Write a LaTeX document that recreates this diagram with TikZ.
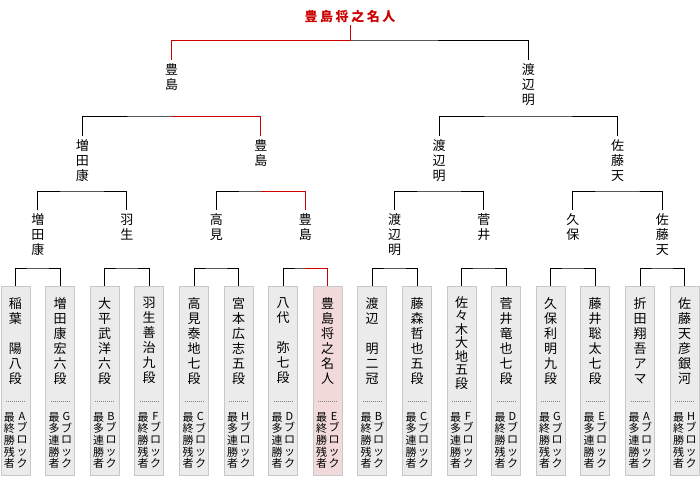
\documentclass[tikz,border=0pt]{standalone}
\usepackage{fontspec}
\setmainfont{Noto Sans CJK JP}
\usepackage{tikz}
\usetikzlibrary{positioning}

\definecolor{winred}{HTML}{CC0000}
\definecolor{boxgray}{HTML}{EBEBEB}
\definecolor{boxpink}{HTML}{F2DADA}
\definecolor{boxedge}{HTML}{C8C8C8}

\tikzset{
  box/.style={draw=boxedge, fill=boxgray, minimum width=29pt, minimum height=189pt,
    inner sep=0pt, outer sep=0pt, anchor=north},
  winbox/.style={box, fill=boxpink},
  player/.style={anchor=north, inner sep=0pt, align=center, font=\fontsize{13}{15}\selectfont},
  foot/.style={anchor=north, inner sep=0pt, align=center, font=\fontsize{11}{11.7}\selectfont},
  lab/.style={anchor=north, inner sep=0pt, outer sep=4pt, align=center, font=\fontsize{13}{15}\selectfont},
  bracket/.style={line width=1pt},
  win/.style={line width=1pt, draw=winred},
  dotsep/.style={draw=gray, line width=0.8pt, dash pattern=on 0.8pt off 1.2pt}
}

\begin{document}
\begin{tikzpicture}[x=1pt,y=-1pt]
\useasboundingbox (0,0) rectangle (700,480);

% first round boxes
\node[box] (b1)  at (15.5,286) {};
\node[box] (b2)  at (60,286) {};
\node[box] (b3)  at (104.5,286) {};
\node[box] (b4)  at (149,286) {};
\node[box] (b5)  at (194,286) {};
\node[box] (b6)  at (238.5,286) {};
\node[box] (b7)  at (283,286) {};
\node[winbox] (b8)  at (327.5,286) {};
\node[box] (b9)  at (372,286) {};
\node[box] (b10) at (417,286) {};
\node[box] (b11) at (461.5,286) {};
\node[box] (b12) at (506,286) {};
\node[box] (b13) at (550.5,286) {};
\node[box] (b14) at (595,286) {};
\node[box] (b15) at (640,286) {};
\node[box] (b16) at (684.5,286) {};

\node[player] (n1)  at (15.5,297) {稲\\葉\\\mbox{}\\陽\\八\\段};
\node[player] (n2)  at (60,297) {増\\田\\康\\宏\\六\\段};
\node[player] (n3)  at (104.5,297) {大\\平\\武\\洋\\六\\段};
\node[player] (n4)  at (149,297) {羽\\生\\善\\治\\九\\段};
\node[player] (n5)  at (194,297) {高\\見\\泰\\地\\七\\段};
\node[player] (n6)  at (238.5,297) {宮\\本\\広\\志\\五\\段};
\node[player] (n7)  at (283,297) {八\\代\\\mbox{}\\弥\\七\\段};
\node[player] (n8)  at (327.5,297) {豊\\島\\将\\之\\名\\人};
\node[player] (n9)  at (372,297) {渡\\辺\\\mbox{}\\明\\二\\冠};
\node[player] (n10) at (417,297) {藤\\森\\哲\\也\\五\\段};
\node[player, font=\fontsize{13}{13.5}\selectfont] (n11) at (461.5,296) {佐\\々\\木\\大\\地\\五\\段};
\node[player] (n12) at (506,297) {菅\\井\\竜\\也\\七\\段};
\node[player] (n13) at (550.5,297) {久\\保\\利\\明\\九\\段};
\node[player] (n14) at (595,297) {藤\\井\\聡\\太\\七\\段};
\node[player] (n15) at (640,297) {折\\田\\翔\\吾\\ア\\マ};
\node[player] (n16) at (684.5,297) {佐\\藤\\天\\彦\\銀\\河};

\draw[dotsep] (6,401) -- (25,401);
\draw[dotsep] (50.5,401) -- (69.5,401);
\draw[dotsep] (95,401) -- (114,401);
\draw[dotsep] (139.5,401) -- (158.5,401);
\draw[dotsep] (184.5,401) -- (203.5,401);
\draw[dotsep] (229,401) -- (248,401);
\draw[dotsep] (273.5,401) -- (292.5,401);
\draw[dotsep] (318,401) -- (337,401);
\draw[dotsep] (362.5,401) -- (381.5,401);
\draw[dotsep] (407.5,401) -- (426.5,401);
\draw[dotsep] (452,401) -- (471,401);
\draw[dotsep] (496.5,401) -- (515.5,401);
\draw[dotsep] (541,401) -- (560,401);
\draw[dotsep] (585.5,401) -- (604.5,401);
\draw[dotsep] (630.5,401) -- (649.5,401);
\draw[dotsep] (675,401) -- (694,401);

\node[foot] (a1)  at (9.5,412) {最\\終\\勝\\残\\者};
\node[foot] (k1)  at (22,412) {A\\ブ\\ロ\\ッ\\ク};
\node[foot] (a2)  at (54,412) {最\\多\\連\\勝\\者};
\node[foot] (k2)  at (66.5,412) {G\\ブ\\ロ\\ッ\\ク};
\node[foot] (a3)  at (98.5,412) {最\\多\\連\\勝\\者};
\node[foot] (k3)  at (111,412) {B\\ブ\\ロ\\ッ\\ク};
\node[foot] (a4)  at (143,412) {最\\終\\勝\\残\\者};
\node[foot] (k4)  at (155.5,412) {F\\ブ\\ロ\\ッ\\ク};
\node[foot] (a5)  at (188,412) {最\\終\\勝\\残\\者};
\node[foot] (k5)  at (200.5,412) {C\\ブ\\ロ\\ッ\\ク};
\node[foot] (a6)  at (232.5,412) {最\\多\\連\\勝\\者};
\node[foot] (k6)  at (245,412) {H\\ブ\\ロ\\ッ\\ク};
\node[foot] (a7)  at (277,412) {最\\多\\連\\勝\\者};
\node[foot] (k7)  at (289.5,412) {D\\ブ\\ロ\\ッ\\ク};
\node[foot] (a8)  at (321.5,412) {最\\終\\勝\\残\\者};
\node[foot] (k8)  at (334,412) {E\\ブ\\ロ\\ッ\\ク};
\node[foot] (a9)  at (366,412) {最\\終\\勝\\残\\者};
\node[foot] (k9)  at (378.5,412) {B\\ブ\\ロ\\ッ\\ク};
\node[foot] (a10) at (411,412) {最\\多\\連\\勝\\者};
\node[foot] (k10) at (423.5,412) {C\\ブ\\ロ\\ッ\\ク};
\node[foot] (a11) at (455.5,412) {最\\多\\連\\勝\\者};
\node[foot] (k11) at (468,412) {F\\ブ\\ロ\\ッ\\ク};
\node[foot] (a12) at (500,412) {最\\終\\勝\\残\\者};
\node[foot] (k12) at (512.5,412) {D\\ブ\\ロ\\ッ\\ク};
\node[foot] (a13) at (544.5,412) {最\\終\\勝\\残\\者};
\node[foot] (k13) at (557,412) {G\\ブ\\ロ\\ッ\\ク};
\node[foot] (a14) at (589,412) {最\\多\\連\\勝\\者};
\node[foot] (k14) at (601.5,412) {E\\ブ\\ロ\\ッ\\ク};
\node[foot] (a15) at (634,412) {最\\多\\連\\勝\\者};
\node[foot] (k15) at (646.5,412) {A\\ブ\\ロ\\ッ\\ク};
\node[foot] (a16) at (678.5,412) {最\\終\\勝\\残\\者};
\node[foot] (k16) at (691,412) {H\\ブ\\ロ\\ッ\\ク};

% winners
\node[lab] (p1) at (37.75,210) {増\\田\\康};
\node[lab] (p2) at (126.75,210) {羽\\生};
\node[lab] (p3) at (216.25,210) {高\\見};
\node[lab] (p4) at (305.25,210) {豊\\島};
\node[lab] (p5) at (394.5,210) {渡\\辺\\明};
\node[lab] (p6) at (483.75,210) {菅\\井};
\node[lab] (p7) at (572.75,210) {久\\保};
\node[lab] (p8) at (662.25,210) {佐\\藤\\天};

\node[lab] (q1) at (82.25,136) {増\\田\\康};
\node[lab] (q2) at (260.75,136) {豊\\島};
\node[lab] (q3) at (439.1,136) {渡\\辺\\明};
\node[lab] (q4) at (617.5,136) {佐\\藤\\天};

\node[lab] (s1) at (171.5,60) {豊\\島};
\node[lab] (s2) at (528.3,60) {渡\\辺\\明};

\node[inner sep=0pt, outer sep=2pt, text=winred,
  font=\fontsize{13}{15}\selectfont\bfseries\addfontfeature{LetterSpace=20}]
  (champ) at (350,17) {豊島将之名人};

% junctions
\coordinate (j1) at (37.75,268);
\coordinate (j2) at (126.75,268);
\coordinate (j3) at (216.25,268);
\coordinate (j4) at (305.25,268);
\coordinate (j5) at (394.5,268);
\coordinate (j6) at (483.75,268);
\coordinate (j7) at (572.75,268);
\coordinate (j8) at (662.25,268);
\coordinate (j9)  at (82.25,191);
\coordinate (j10) at (260.75,191);
\coordinate (j11) at (439.1,191);
\coordinate (j12) at (617.5,191);
\coordinate (j13) at (171.5,116);
\coordinate (j14) at (528.3,116);
\coordinate (j15) at (350,40);

\draw[bracket] (b1.north) |- (j1) -| (b2.north);
\draw[bracket] (b3.north) |- (j2) -| (b4.north);
\draw[bracket] (b5.north) |- (j3) -| (b6.north);
\draw[bracket] (b7.north) |- (j4) -| (b8.north);
\draw[bracket] (b9.north) |- (j5) -| (b10.north);
\draw[bracket] (b11.north) |- (j6) -| (b12.north);
\draw[bracket] (b13.north) |- (j7) -| (b14.north);
\draw[bracket] (b15.north) |- (j8) -| (b16.north);

\draw[bracket] (p1.north) |- (j9) -| (p2.north);
\draw[bracket] (p3.north) |- (j10) -| (p4.north);
\draw[bracket] (p5.north) |- (j11) -| (p6.north);
\draw[bracket] (p7.north) |- (j12) -| (p8.north);

\draw[bracket] (q1.north) |- (j13) -| (q2.north);
\draw[bracket] (q3.north) |- (j14) -| (q4.north);

\draw[bracket] (s1.north) |- (j15) -| (s2.north);

% champion's path
\draw[win] (j4) -| (b8.north);
\draw[win] (j10) -| (p4.north);
\draw[win] (j13) -| (q2.north);
\draw[win] (champ.south) -- (j15) -| (s1.north);

\end{tikzpicture}
\end{document}
